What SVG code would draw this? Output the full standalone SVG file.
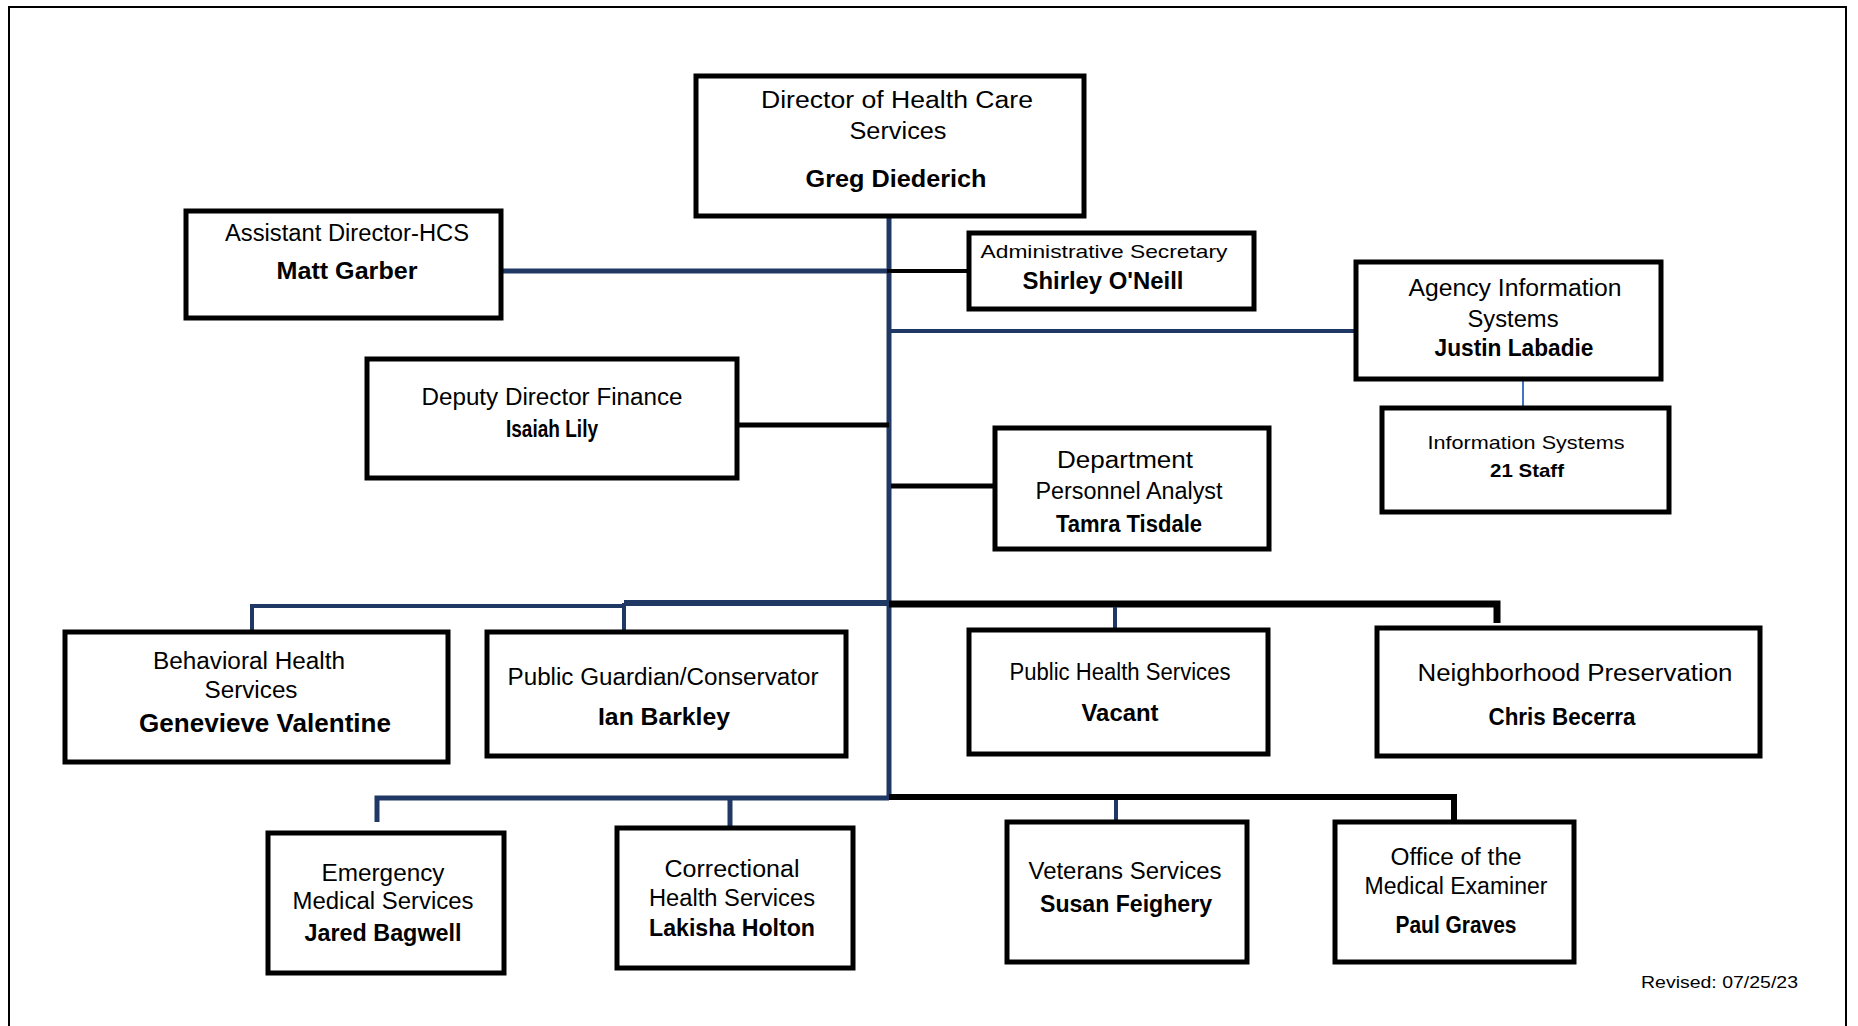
<svg xmlns="http://www.w3.org/2000/svg" width="1858" height="1026" viewBox="0 0 1858 1026">
<style>
.box{fill:#fff;stroke:#000;stroke-width:5}
text{font-family:"Liberation Sans",Arial,sans-serif;fill:#000;text-anchor:middle}
.t{font-size:23px}
.s{font-size:19px}
.b{font-weight:bold;font-size:23px}
.bs{font-weight:bold;font-size:19px}
.navy{stroke:#1f3864;fill:none}
.blk{stroke:#000;fill:none}
</style>
<rect x="9" y="7" width="1837" height="1040" fill="#fff" stroke="#000" stroke-width="2"/>
<g id="connectors">
<line class="navy" x1="889" y1="214" x2="889" y2="800" stroke-width="5"/>
<line class="navy" x1="501" y1="271" x2="889" y2="271" stroke-width="5"/>
<line class="blk" x1="887" y1="271" x2="969" y2="271" stroke-width="4"/>
<line class="navy" x1="889" y1="331" x2="1356" y2="331" stroke-width="4"/>
<line x1="1523" y1="379" x2="1523" y2="408" stroke="#4472c4" stroke-width="2"/>
<line class="blk" x1="737" y1="425" x2="889" y2="425" stroke-width="5"/>
<line class="blk" x1="891" y1="486" x2="995" y2="486" stroke-width="5"/>
<polyline class="navy" points="252,630 252,606 624,606" stroke-width="4"/>
<line class="navy" x1="624" y1="603" x2="889" y2="603" stroke-width="6"/>
<line class="navy" x1="624" y1="603" x2="624" y2="630" stroke-width="4"/>
<polyline class="blk" points="889,604 1497,604 1497,623" stroke-width="7"/>
<line class="navy" x1="1115" y1="607" x2="1115" y2="630" stroke-width="4"/>
<polyline class="navy" points="377,822 377,798 889,798" stroke-width="5"/>
<line class="navy" x1="730" y1="798" x2="730" y2="826" stroke-width="5"/>
<polyline class="blk" points="889,797 1454,797 1454,822" stroke-width="6"/>
<line class="navy" x1="1116" y1="800" x2="1116" y2="822" stroke-width="4"/>
</g>
<g id="director">
<rect class="box" x="696" y="76" width="388" height="140"/>
<text class="t" x="897" y="108" textLength="272" lengthAdjust="spacingAndGlyphs">Director of Health Care</text>
<text class="t" x="898" y="139" textLength="97" lengthAdjust="spacingAndGlyphs">Services</text>
<text class="b" x="896" y="187" textLength="181" lengthAdjust="spacingAndGlyphs">Greg Diederich</text>
</g>
<g id="assistant-director">
<rect class="box" x="186" y="211" width="315" height="107"/>
<text class="t" x="347" y="241" textLength="244" lengthAdjust="spacingAndGlyphs">Assistant Director-HCS</text>
<text class="b" x="347" y="279" textLength="141" lengthAdjust="spacingAndGlyphs">Matt Garber</text>
</g>
<g id="admin-secretary">
<rect class="box" x="969" y="233" width="285" height="76"/>
<text class="s" x="1104" y="258" textLength="247" lengthAdjust="spacingAndGlyphs">Administrative Secretary</text>
<text class="b" x="1103" y="289" textLength="161" lengthAdjust="spacingAndGlyphs">Shirley O'Neill</text>
</g>
<g id="agency-info-systems">
<rect class="box" x="1356" y="262" width="305" height="117"/>
<text class="t" x="1515" y="296" textLength="213" lengthAdjust="spacingAndGlyphs">Agency Information</text>
<text class="t" x="1513" y="327" textLength="91" lengthAdjust="spacingAndGlyphs">Systems</text>
<text class="b" x="1514" y="356" textLength="159" lengthAdjust="spacingAndGlyphs">Justin Labadie</text>
</g>
<g id="information-systems">
<rect class="box" x="1382" y="408" width="287" height="104"/>
<text class="s" x="1526" y="449" textLength="197" lengthAdjust="spacingAndGlyphs">Information Systems</text>
<text class="bs" x="1527" y="477" textLength="74" lengthAdjust="spacingAndGlyphs">21 Staff</text>
</g>
<g id="deputy-director-finance">
<rect class="box" x="367" y="359" width="370" height="119"/>
<text class="t" x="552" y="405" textLength="261" lengthAdjust="spacingAndGlyphs">Deputy Director Finance</text>
<text class="b" x="552" y="437" textLength="92" lengthAdjust="spacingAndGlyphs">Isaiah Lily</text>
</g>
<g id="personnel-analyst">
<rect class="box" x="995" y="428" width="274" height="121"/>
<text class="t" x="1125" y="468" textLength="136" lengthAdjust="spacingAndGlyphs">Department</text>
<text class="t" x="1129" y="499" textLength="187" lengthAdjust="spacingAndGlyphs">Personnel Analyst</text>
<text class="b" x="1129" y="532" textLength="146" lengthAdjust="spacingAndGlyphs">Tamra Tisdale</text>
</g>
<g id="behavioral-health">
<rect class="box" x="65" y="632" width="383" height="130"/>
<text class="t" x="249" y="669" textLength="192" lengthAdjust="spacingAndGlyphs">Behavioral Health</text>
<text class="t" x="251" y="698" textLength="93" lengthAdjust="spacingAndGlyphs">Services</text>
<text class="b" x="265" y="732" style="font-size:25px" textLength="252" lengthAdjust="spacingAndGlyphs">Genevieve Valentine</text>
</g>
<g id="public-guardian">
<rect class="box" x="487" y="632" width="359" height="124"/>
<text class="t" x="663" y="685" textLength="311" lengthAdjust="spacingAndGlyphs">Public Guardian/Conservator</text>
<text class="b" x="664" y="725" textLength="132" lengthAdjust="spacingAndGlyphs">Ian Barkley</text>
</g>
<g id="public-health">
<rect class="box" x="969" y="630" width="299" height="124"/>
<text class="t" x="1120" y="680" textLength="221" lengthAdjust="spacingAndGlyphs">Public Health Services</text>
<text class="b" x="1120" y="721" textLength="77" lengthAdjust="spacingAndGlyphs">Vacant</text>
</g>
<g id="neighborhood-preservation">
<rect class="box" x="1377" y="628" width="383" height="128" stroke-width="6"/>
<text class="t" x="1575" y="681" textLength="315" lengthAdjust="spacingAndGlyphs">Neighborhood Preservation</text>
<text class="b" x="1562" y="725" textLength="147" lengthAdjust="spacingAndGlyphs">Chris Becerra</text>
</g>
<g id="emergency-medical">
<rect class="box" x="268" y="833" width="236" height="140"/>
<text class="t" x="383" y="881" textLength="123" lengthAdjust="spacingAndGlyphs">Emergency</text>
<text class="t" x="383" y="909" textLength="181" lengthAdjust="spacingAndGlyphs">Medical Services</text>
<text class="b" x="383" y="941" textLength="157" lengthAdjust="spacingAndGlyphs">Jared Bagwell</text>
</g>
<g id="correctional-health">
<rect class="box" x="617" y="828" width="236" height="140"/>
<text class="t" x="732" y="877" textLength="135" lengthAdjust="spacingAndGlyphs">Correctional</text>
<text class="t" x="732" y="906" textLength="166" lengthAdjust="spacingAndGlyphs">Health Services</text>
<text class="b" x="732" y="936" textLength="166" lengthAdjust="spacingAndGlyphs">Lakisha Holton</text>
</g>
<g id="veterans-services">
<rect class="box" x="1007" y="822" width="240" height="140"/>
<text class="t" x="1125" y="879" textLength="193" lengthAdjust="spacingAndGlyphs">Veterans Services</text>
<text class="b" x="1126" y="912" textLength="172" lengthAdjust="spacingAndGlyphs">Susan Feighery</text>
</g>
<g id="medical-examiner">
<rect class="box" x="1335" y="822" width="239" height="140"/>
<text class="t" x="1456" y="865" textLength="131" lengthAdjust="spacingAndGlyphs">Office of the</text>
<text class="t" x="1456" y="894" textLength="183" lengthAdjust="spacingAndGlyphs">Medical Examiner</text>
<text class="b" x="1456" y="933" textLength="121" lengthAdjust="spacingAndGlyphs">Paul Graves</text>
</g>
<text x="1641" y="988" style="font-size:17px;text-anchor:start" textLength="157" lengthAdjust="spacingAndGlyphs">Revised: 07/25/23</text>
</svg>
